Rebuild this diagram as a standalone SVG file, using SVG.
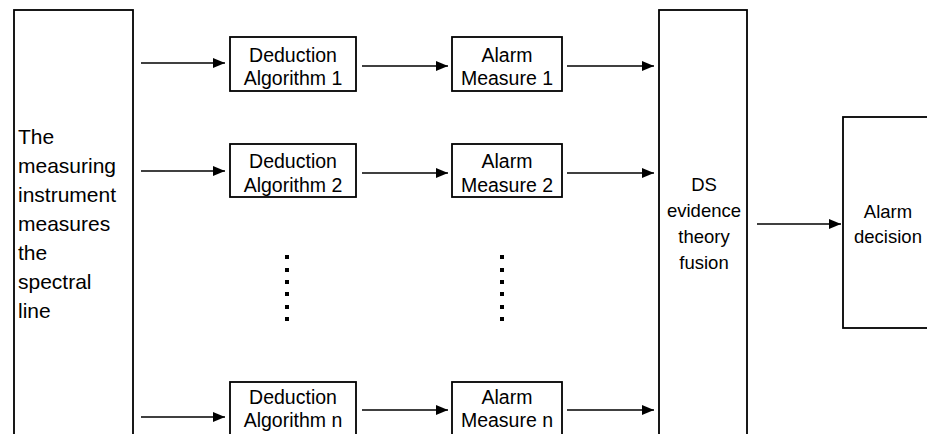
<svg xmlns="http://www.w3.org/2000/svg" width="927" height="434" viewBox="0 0 927 434">
<defs>
<marker id="ah" markerWidth="12" markerHeight="10" refX="12" refY="5" orient="auto" markerUnits="userSpaceOnUse">
<path d="M0,0 L12,5 L0,10 Z" fill="#000"/>
</marker>
</defs>
<style>
.box{fill:#fff;stroke:#000;stroke-width:1.8}
.t{font-family:"Liberation Sans",Arial,sans-serif;fill:#000}
.s{font-size:19.5px;text-anchor:middle}
.l{font-size:21px}
.m{font-size:18.5px;text-anchor:middle}
.c line{stroke:#000;stroke-width:1.6;marker-end:url(#ah)}
.dot{fill:#000}
</style>
<rect width="927" height="434" fill="#fff"/>
<g id="source">
<rect class="box" x="14" y="10" width="119" height="440"/>
<text class="t l" x="18"><tspan x="18" y="144">The</tspan><tspan x="18" y="173">measuring</tspan><tspan x="18" y="202">instrument</tspan><tspan x="18" y="231">measures</tspan><tspan x="18" y="260">the</tspan><tspan x="18" y="289">spectral</tspan><tspan x="18" y="318">line</tspan></text>
</g>
<g id="deduction1">
<rect class="box" x="230" y="37" width="126" height="54"/>
<text class="t s"><tspan x="293" y="62">Deduction</tspan><tspan x="293" y="85">Algorithm 1</tspan></text>
</g>
<g id="deduction2">
<rect class="box" x="230" y="144" width="126" height="53"/>
<text class="t s"><tspan x="293" y="168">Deduction</tspan><tspan x="293" y="192">Algorithm 2</tspan></text>
</g>
<g id="deductionn">
<rect class="box" x="230" y="382" width="126" height="70"/>
<text class="t s"><tspan x="293" y="404">Deduction</tspan><tspan x="293" y="427">Algorithm n</tspan></text>
</g>
<g id="alarm1">
<rect class="box" x="452" y="37" width="110" height="54"/>
<text class="t s"><tspan x="507" y="62">Alarm</tspan><tspan x="507" y="85">Measure 1</tspan></text>
</g>
<g id="alarm2">
<rect class="box" x="452" y="144" width="110" height="53"/>
<text class="t s"><tspan x="507" y="168">Alarm</tspan><tspan x="507" y="192">Measure 2</tspan></text>
</g>
<g id="alarmn">
<rect class="box" x="452" y="382" width="110" height="70"/>
<text class="t s"><tspan x="507" y="404">Alarm</tspan><tspan x="507" y="427">Measure n</tspan></text>
</g>
<g id="dots1">
<rect class="dot" x="285" y="255" width="4" height="4"/>
<rect class="dot" x="285" y="268" width="4" height="4"/>
<rect class="dot" x="285" y="280" width="4" height="4"/>
<rect class="dot" x="285" y="292" width="4" height="4"/>
<rect class="dot" x="285" y="305" width="4" height="4"/>
<rect class="dot" x="285" y="317" width="4" height="4"/>
</g>
<g id="dots2">
<rect class="dot" x="500" y="255" width="4" height="4"/>
<rect class="dot" x="500" y="268" width="4" height="4"/>
<rect class="dot" x="500" y="280" width="4" height="4"/>
<rect class="dot" x="500" y="292" width="4" height="4"/>
<rect class="dot" x="500" y="305" width="4" height="4"/>
<rect class="dot" x="500" y="317" width="4" height="4"/>
</g>
<g id="fusion">
<rect class="box" x="659" y="10" width="88" height="440"/>
<text class="t m"><tspan x="704" y="191">DS</tspan><tspan x="704" y="217">evidence</tspan><tspan x="704" y="243">theory</tspan><tspan x="704" y="269">fusion</tspan></text>
</g>
<g id="decision">
<rect class="box" x="843" y="117" width="100" height="211"/>
<text class="t m"><tspan x="888" y="218">Alarm</tspan><tspan x="888" y="243">decision</tspan></text>
</g>
<g id="connectors" class="c">
<line x1="141" y1="63" x2="225" y2="63"/>
<line x1="141" y1="171" x2="225" y2="171"/>
<line x1="141" y1="417" x2="225" y2="417"/>
<line x1="362" y1="66" x2="448" y2="66"/>
<line x1="362" y1="173" x2="448" y2="173"/>
<line x1="362" y1="410" x2="448" y2="410"/>
<line x1="567" y1="66" x2="654" y2="66"/>
<line x1="567" y1="173" x2="654" y2="173"/>
<line x1="567" y1="410" x2="654" y2="410"/>
<line x1="757" y1="224" x2="841" y2="224"/>
</g>
</svg>
